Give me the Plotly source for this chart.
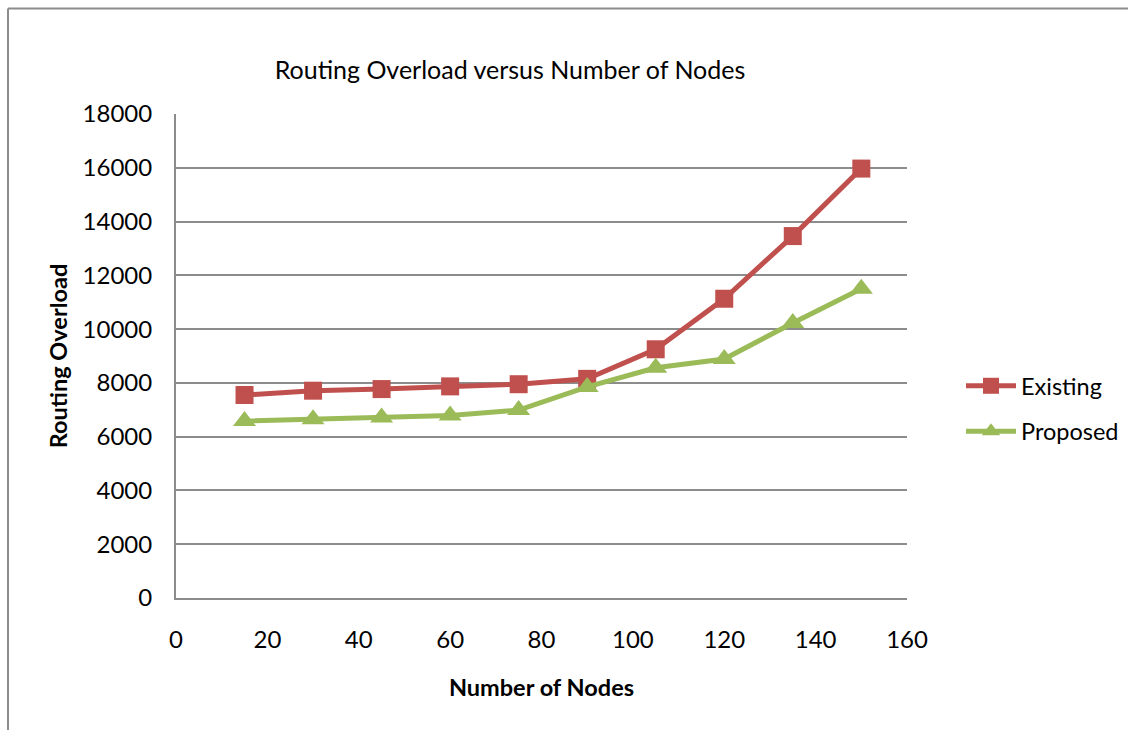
import plotly.graph_objects as go

# Number of nodes in the network
nodes = [15, 30, 45, 60, 75, 90, 105, 120, 135, 150]

# Routing overload measured for each scheme
existing = [7550, 7710, 7770, 7870, 7950, 8150, 9250, 11130, 13460, 15970]
proposed = [6580, 6650, 6710, 6790, 6990, 7850, 8560, 8890, 10230, 11500]

x_ticks = [0, 20, 40, 60, 80, 100, 120, 140, 160]
y_ticks = [0, 2000, 4000, 6000, 8000, 10000, 12000, 14000, 16000, 18000]
y_tick_text = [str(v) for v in y_ticks]

RED = "#C0504D"
GREEN = "#9BBB59"
GRID = "#8C8C8C"
FONT = "Lato"

fig = go.Figure()
fig.add_trace(go.Scatter(
    x=nodes, y=existing, name="Existing", mode="lines+markers",
    legendgroup="existing",
    line=dict(color=RED, width=5),
    marker=dict(symbol="square", size=18, color=RED),
))
fig.add_trace(go.Scatter(
    x=nodes, y=proposed, name="Proposed", mode="lines+markers",
    legendgroup="proposed",
    line=dict(color=GREEN, width=5),
    marker=dict(symbol="triangle-up", size=20, color=GREEN),
))

fig.update_layout(
    width=1128, height=730,
    margin=dict(l=176, r=221, t=114, b=132),
    paper_bgcolor="white", plot_bgcolor="white",
    font=dict(family=FONT, size=24, color="black"),
    title=dict(
        text="Routing Overload versus Number of Nodes",
        x=(510 - 176) / 731, xref="paper", xanchor="center",
        y=1 - 70 / 730, yref="container", yanchor="middle",
        font=dict(family=FONT, size=25, color="black"),
    ),
    showlegend=True,
    legend=dict(
        xref="container", yref="container",
        x=961 / 1128, xanchor="left", y=1 - 409 / 730, yanchor="middle",
        font=dict(family=FONT, size=23.5, color="black"),
        bgcolor="rgba(0,0,0,0)", traceorder="grouped",
        tracegroupgap=12, itemwidth=50,
    ),
    xaxis=dict(
        range=[0, 160], tickvals=x_ticks, showgrid=False, zeroline=False,
        showline=True, linecolor=GRID, linewidth=2, ticks="",
        ticklabelstandoff=19,
        tickfont=dict(family=FONT, size=24, color="black"),
        title=dict(text="Number of Nodes", standoff=28,
                   font=dict(family=FONT, size=23.5, color="black", weight="bold")),
    ),
    yaxis=dict(
        range=[0, 18000], tickvals=y_ticks, ticktext=y_tick_text,
        showgrid=True, gridcolor=GRID,
        gridwidth=1.5, zeroline=False, showline=True, linecolor=GRID,
        linewidth=2, ticks="", ticklabelstandoff=17,
        tickfont=dict(family=FONT, size=24, color="black"),
        title=dict(text="Routing Overload", standoff=8,
                   font=dict(family=FONT, size=23.5, color="black", weight="bold")),
    ),
    shapes=[
        # outer frame: top and left edges
        dict(type="line", xref="paper", yref="paper",
             x0=(8 - 176) / 731, x1=(1128 - 176) / 731,
             y0=(598 - 8.5) / 484, y1=(598 - 8.5) / 484,
             line=dict(color=GRID, width=2)),
        dict(type="line", xref="paper", yref="paper",
             x0=(8 - 176) / 731, x1=(8 - 176) / 731,
             y0=(598 - 8.5) / 484, y1=(598 - 730) / 484,
             line=dict(color=GRID, width=2)),
    ],
)

fig.write_html("out.html")
